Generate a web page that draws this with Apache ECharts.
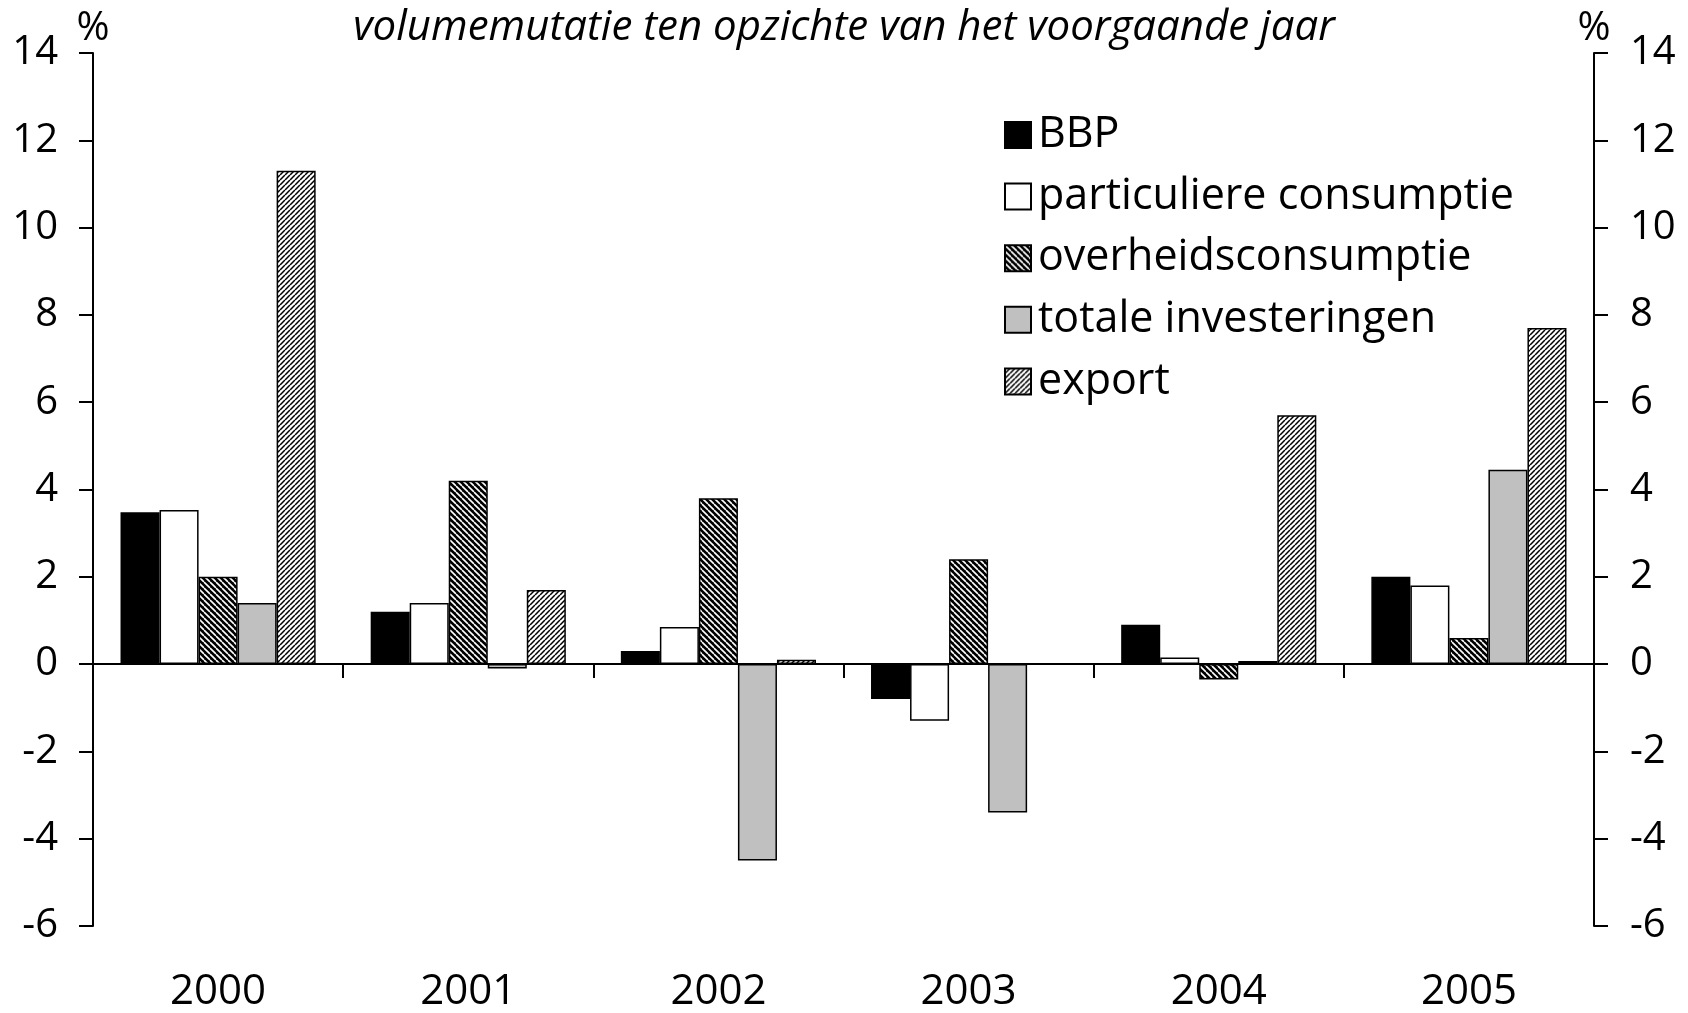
<!DOCTYPE html>
<html>
<head>
<meta charset="utf-8">
<script src="https://cdn.jsdelivr.net/npm/echarts@6/dist/echarts.min.js"></script>
<style>
html,body{margin:0;padding:0;background:#fff;}
#chart{width:1688px;height:1013px;}
</style>
</head>
<body>
<div id="chart"></div>
<script>
const years = ['2000', '2001', '2002', '2003', '2004', '2005'];
const bbp = [3.48, 1.2, 0.3, -0.8, 0.9, 2.0];
const particuliereConsumptie = [3.53, 1.4, 0.85, -1.3, 0.15, 1.8];
const overheidsconsumptie = [2.0, 4.2, 3.8, 2.4, -0.35, 0.6];
const totaleInvesteringen = [1.4, -0.1, -4.5, -3.4, 0.07, 4.45];
const exportVol = [11.3, 1.7, 0.1, 0, 5.7, 7.7];
const yTicks = { min: -6, max: 14, interval: 2 };
const titleText = 'volumemutatie ten opzichte van het voorgaande jaar';

function hatch(dir, bg, fg, lw, size) {
  const c = document.createElement('canvas');
  c.width = size; c.height = size;
  const g = c.getContext('2d');
  g.fillStyle = bg; g.fillRect(0, 0, size, size);
  g.strokeStyle = fg; g.lineWidth = lw;
  g.beginPath();
  for (let k = -1; k <= 1; k++) {
    if (dir === 'back') { g.moveTo(k * size, 0); g.lineTo(k * size + size, size); }
    else { g.moveTo(k * size, size); g.lineTo(k * size + size, 0); }
  }
  g.stroke();
  return c;
}
const overPattern = { image: hatch('back', '#000', '#fff', 1.6, 6), repeat: 'repeat' };
const exportPattern = { image: hatch('fwd', '#fff', '#000', 1.5, 5), repeat: 'repeat' };

const FONT = '"Open Sans", sans-serif';
const chart = echarts.init(document.getElementById('chart'), null, { renderer: 'canvas' });

function barSeries(name, data, color) {
  return {
    name: name, type: 'bar', data: data, xAxisIndex: 0, yAxisIndex: 0,
    barGap: '0%', barCategoryGap: '22%',
    itemStyle: { color: color, borderColor: '#000', borderWidth: 1.5 },
    emphasis: { disabled: true },
    animation: false
  };
}

const yAxisBase = {
  type: 'value', min: yTicks.min, max: yTicks.max, interval: yTicks.interval,
  name: '%', nameLocation: 'end', nameGap: 4,
  nameTextStyle: { fontFamily: FONT, fontSize: 40, color: '#000' },
  axisLine: { show: true, lineStyle: { color: '#000', width: 2 } },
  axisTick: { show: true, inside: false, length: 14, lineStyle: { color: '#000', width: 2 } },
  splitLine: { show: false },
  axisLabel: { fontFamily: FONT, fontSize: 40, color: '#000', margin: 35 }
};

chart.setOption({
  backgroundColor: '#fff',
  animation: false,
  title: {
    text: titleText, left: 'center', top: 7, padding: 0,
    textStyle: { fontFamily: FONT, fontSize: 42, fontStyle: 'italic', fontWeight: 'normal', color: '#000' }
  },
  legend: {
    orient: 'vertical', left: 999, top: 108, itemWidth: 26, itemHeight: 26, itemGap: 17.6,
    icon: 'rect',
    textStyle: { fontFamily: FONT, fontSize: 43, color: '#000', lineHeight: 44, padding: [0, 0, 0, 2] },
    data: ['BBP', 'particuliere consumptie', 'overheidsconsumptie', 'totale investeringen', 'export']
  },
  grid: { left: 93, right: 94, top: 53, bottom: 84, containLabel: false },
  xAxis: [
    {
      type: 'category', data: years, position: 'bottom',
      axisLine: { show: true, onZero: true, lineStyle: { color: '#000', width: 2 } },
      axisTick: { show: true, inside: false, length: 14, lineStyle: { color: '#000', width: 2 } },
      axisLabel: { show: false }, splitLine: { show: false }
    },
    {
      type: 'category', data: years, position: 'bottom',
      axisLine: { show: false, onZero: false }, axisTick: { show: false },
      axisLabel: { show: true, fontFamily: FONT, fontSize: 42, color: '#000', margin: 45 },
      splitLine: { show: false }
    }
  ],
  yAxis: [
    Object.assign({}, yAxisBase, { position: 'left' }),
    Object.assign({}, yAxisBase, { position: 'right', axisLabel: Object.assign({}, yAxisBase.axisLabel, { margin: 36 }) })
  ],
  series: [
    barSeries('BBP', bbp, '#000'),
    barSeries('particuliere consumptie', particuliereConsumptie, '#fff'),
    barSeries('overheidsconsumptie', overheidsconsumptie, overPattern),
    barSeries('totale investeringen', totaleInvesteringen, '#c0c0c0'),
    barSeries('export', exportVol, exportPattern)
  ]
});
</script>
</body>
</html>
